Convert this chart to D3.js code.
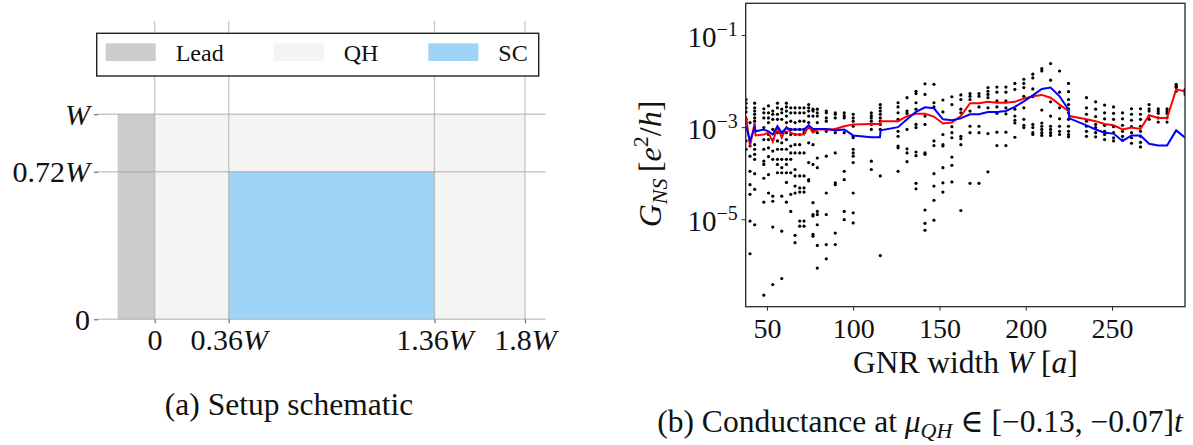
<!DOCTYPE html>
<html>
<head>
<meta charset="utf-8">
<script src="https://cdn.jsdelivr.net/npm/d3@7"></script>
<style>
  body { margin: 0; background: #fff; }
  svg { display: block; font-family: "Liberation Serif", "DejaVu Serif", serif; }
</style>
</head>
<body>
<svg id="chart" width="1193" height="445"></svg>
<script>
// ---------- (a) setup schematic, in units of W ----------
const regionNames = ['Lead', 'QH', 'SC'];
const regionStart = [-0.18, 0, 0.36];
const regionEnd = [0, 1.8, 1.36];
const regionTop = [1, 1, 0.72];

const schemXTicks = [0, 0.36, 1.36, 1.8];
const schemXLabels = ['0', '0.36W', '1.36W', '1.8W'];
const schemYTicks = [0, 0.72, 1];
const schemYLabels = ['0', '0.72W', 'W'];

// ---------- (b) conductance, values are log10(G_NS) ----------
const gnrWidths = [37.9, 40.2, 42.9, 48.2, 50.9, 53.4, 56.1, 58.6, 61.3, 63.8, 66.3, 69.0, 71.5, 74.2,
    76.7, 79.2, 84.4, 89.6, 94.8, 100.0, 110.5, 115.7, 126.0, 131.2, 136.4, 141.6, 146.8, 152.0,
    157.2, 162.4, 167.7, 172.9, 178.1, 183.3, 188.5, 193.7, 198.9, 204.1, 209.3, 214.4, 219.6,
    224.8, 235.2, 240.5, 245.7, 250.9, 256.1, 261.3, 266.5, 271.5, 276.8, 281.9, 287.2, 292.4];

const dotExponents = [
    [-2.40, -2.48, -2.58, -2.67, -2.83, -3.30, -3.48],
    [-2.90, -3.27, -3.41, -3.63, -3.96, -4.25, -4.46, -5.04, -5.75],
    [-2.48, -2.58, -2.65, -2.72, -2.80, -2.87, -3.38, -3.48, -3.59, -3.70, -4.01, -4.35, -5.12],
    [-2.60, -2.69, -2.80, -3.01, -3.27, -3.48, -3.74, -3.81, -4.11, -4.63, -6.65],
    [-2.54, -2.69, -2.80, -2.90, -3.16, -3.27, -3.45, -3.64, -4.03, -4.43],
    [-2.65, -2.72, -2.83, -3.05, -3.27, -3.52, -3.70, -4.50, -4.61, -5.17, -6.42],
    [-2.48, -2.58, -2.72, -2.83, -3.12, -3.30, -3.48, -3.70, -3.81, -3.99],
    [-2.61, -2.69, -2.83, -3.12, -3.34, -3.48, -3.70, -3.88, -3.99, -4.50, -5.26, -6.29],
    [-2.48, -2.56, -2.65, -2.76, -2.90, -3.12, -3.27, -3.48, -3.70, -3.81, -3.99, -4.20, -4.63],
    [-2.58, -2.69, -2.87, -3.05, -3.16, -3.41, -3.56, -3.70, -3.99, -4.46, -4.83],
    [-2.58, -2.69, -2.90, -3.05, -3.16, -3.38, -3.56, -3.92, -4.06, -4.28, -4.43, -5.35, -5.51],
    [-2.58, -2.69, -2.87, -3.05, -3.16, -3.38, -3.56, -4.06, -4.32, -4.41, -5.04, -5.15],
    [-2.58, -2.69, -2.87, -3.05, -3.12, -3.56, -4.06, -4.32, -4.41, -5.04, -5.15],
    [-2.51, -2.58, -2.65, -2.76, -2.90, -3.01, -3.34, -3.77, -4.14, -4.17],
    [-2.61, -2.65, -2.76, -3.09, -3.38, -3.81, -4.64, -4.90, -4.93, -5.33, -5.37],
    [-2.61, -2.69, -2.76, -2.90, -3.12, -3.67, -3.88, -4.83, -4.90, -5.12, -5.57, -6.06],
    [-2.65, -2.69, -2.80, -2.87, -3.09, -3.63, -4.43, -4.90, -5.55, -5.86],
    [-2.69, -2.72, -2.80, -3.05, -3.12, -3.56, -4.21, -4.25, -5.30, -5.55],
    [-2.69, -2.75, -2.80, -3.12, -3.96, -4.14, -4.83, -5.01],
    [-2.72, -2.80, -2.87, -2.98, -3.20, -3.23, -3.48, -3.56, -3.63, -3.77, -4.43, -4.86, -5.08],
    [-2.69, -2.75, -2.80, -2.87, -2.94, -3.05, -3.74, -3.92],
    [-2.51, -2.58, -2.65, -2.72, -2.80, -2.87, -2.94, -3.05, -4.06, -5.79],
    [-2.47, -2.56, -2.69, -2.83, -3.09, -3.20, -3.41, -3.45, -3.96],
    [-2.36, -2.65, -2.70, -3.05, -3.47, -3.56, -3.75],
    [-2.22, -2.27, -2.47, -2.61, -2.94, -3.01, -3.54, -3.62, -4.22, -4.34],
    [-2.06, -2.29, -2.76, -2.94, -3.56, -3.59, -4.80, -5.09, -5.24],
    [-2.07, -2.47, -2.56, -3.30, -3.40, -4.01, -4.28, -4.59, -5.02],
    [-2.41, -2.67, -3.16, -3.38, -3.41, -3.88, -4.21, -4.41],
    [-2.34, -2.51, -2.99, -3.12, -3.23, -3.65, -3.83, -4.19],
    [-2.30, -2.40, -2.61, -2.69, -3.20, -3.25, -3.38, -4.81],
    [-2.27, -2.33, -2.40, -2.65, -2.98, -3.12, -4.22],
    [-2.27, -2.33, -2.56, -2.98, -3.12, -4.22],
    [-2.14, -2.22, -2.29, -2.36, -2.58, -3.14, -3.97],
    [-2.13, -2.24, -2.43, -2.56, -2.70, -3.11, -3.40],
    [-2.13, -2.24, -2.43, -2.58, -2.71, -3.11, -3.40],
    [-2.05, -2.18, -2.61, -2.76, -2.85, -2.91, -3.22],
    [-1.96, -2.05, -2.14, -2.33, -2.58, -2.83, -2.96, -3.01],
    [-1.85, -1.93, -2.17, -2.34, -2.94, -3.01, -3.12, -3.16],
    [-1.73, -1.78, -2.63, -2.91, -2.98, -3.05, -3.12, -3.18],
    [-1.62, -1.98, -2.45, -2.76, -2.98, -3.05, -3.12, -3.18],
    [-1.78, -2.24, -2.58, -2.82, -2.98, -3.09, -3.16],
    [-2.05, -2.23, -2.40, -2.51, -2.60, -2.69, -2.83, -2.98, -3.09, -3.16, -3.21],
    [-2.36, -2.58, -2.72, -2.87, -2.98, -3.09, -3.20],
    [-2.45, -2.61, -2.77, -2.94, -3.01, -3.12, -3.21],
    [-2.52, -2.69, -2.82, -2.96, -3.09, -3.16, -3.27],
    [-2.56, -2.70, -2.83, -2.99, -3.12, -3.23, -3.30],
    [-2.69, -2.82, -2.96, -3.09, -3.20, -3.28],
    [-2.60, -2.72, -2.85, -2.99, -3.12, -3.23, -3.35],
    [-2.60, -2.72, -2.83, -2.98, -3.09, -3.20, -3.33, -3.43],
    [-2.51, -2.60, -2.65, -2.76, -2.83],
    [-2.60, -2.65, -2.70, -2.80, -2.89],
    [-2.60, -2.65, -2.70, -2.80, -2.89],
    [-2.07, -2.11, -2.14, -2.22],
    [-2.18, -2.24, -2.29]
];

const lineWidths = [37.9, 40.2, 42.9, 43.4, 48.2, 50.9, 53.4, 56.1, 58.6, 61.3, 63.8, 66.3, 69.0, 71.5,
    74.2, 76.7, 79.2, 84.4, 89.6, 94.8, 100.0, 110.5, 115.5, 115.9, 126.0, 131.2, 136.4, 141.6, 146.8,
    152.0, 157.2, 162.4, 167.7, 172.9, 178.1, 183.3, 188.5, 193.7, 198.9, 204.1, 209.3, 214.4, 219.6,
    224.8, 225.3, 235.2, 240.5, 245.7, 250.9, 256.1, 261.3, 266.5, 271.5, 276.8, 281.9, 287.2, 292.4];
const redExponents = [-2.76, -3.41, -2.90, -3.18, -3.16, -3.12, -3.32, -3.00, -3.23, -3.00, -3.12, -3.16,
    -3.16, -3.16, -2.98, -3.12, -3.05, -3.05, -3.04, -2.98, -2.94, -2.93, -2.93, -2.87, -2.87, -2.76,
    -2.71, -2.71, -2.77, -2.92, -2.90, -2.76, -2.48, -2.48, -2.45, -2.47, -2.47, -2.45, -2.38, -2.33,
    -2.30, -2.36, -2.51, -2.65, -2.76, -2.83, -2.87, -2.93, -2.96, -3.05, -3.01, -3.04, -2.74, -2.80,
    -2.80, -2.18, -2.22];
const blueExponents = [-2.98, -3.30, -3.01, -3.09, -3.05, -3.09, -3.16, -2.98, -3.12, -3.01, -3.05, -3.05,
    -3.05, -3.05, -2.96, -3.04, -3.04, -3.04, -3.07, -3.05, -3.18, -3.22, -3.22, -3.07, -3.00, -2.83,
    -2.67, -2.57, -2.59, -2.83, -2.85, -2.81, -2.72, -2.72, -2.67, -2.67, -2.65, -2.56, -2.44, -2.31,
    -2.17, -2.14, -2.33, -2.62, -2.81, -2.96, -3.05, -3.12, -3.14, -3.30, -3.18, -3.18, -3.36, -3.40,
    -3.40, -3.07, -3.23];

const condXTicks = [50, 100, 150, 200, 250];
const condYExponents = [-1, -3, -5];

const svg = d3.select('#chart');

// label like "0.36W": number upright, trailing W in math italic
function labelWithW(sel, label) {
    const num = label.replace('W', '');
    if (num) sel.append('tspan').text(num);
    if (label.endsWith('W')) sel.append('tspan').attr('font-style', 'italic').text('W');
}

// ================= (a) =================
const sx = d3.scaleLinear().domain([-0.28, 1.9]).range([97, 545.6]);
const sy = d3.scaleLinear().domain([0, 1.455]).range([319.3, 21]);
const regionColor = d3.scaleOrdinal().domain(regionNames).range(['#cccccc', '#f4f4f4', '#9fd4f6']);

const regions = regionNames.map((n, i) => ({ name: n, x0: regionStart[i], x1: regionEnd[i], top: regionTop[i] }));
const drawOrder = ['QH', 'Lead', 'SC'];

const a = svg.append('g');
a.selectAll('rect.region')
    .data(drawOrder.map(n => regions.find(r => r.name === n)))
    .join('rect')
    .attr('class', 'region')
    .attr('x', d => sx(d.x0))
    .attr('width', d => sx(d.x1) - sx(d.x0))
    .attr('y', d => sy(d.top))
    .attr('height', d => sy(0) - sy(d.top))
    .attr('fill', d => regionColor(d.name));

// grid on top of the regions
a.selectAll('line.vgrid').data(schemXTicks).join('line')
    .attr('class', 'vgrid')
    .attr('x1', d => sx(d)).attr('x2', d => sx(d))
    .attr('y1', sy.range()[1]).attr('y2', sy(0))
    .attr('stroke', '#a8a8a8').attr('stroke-opacity', 0.6).attr('stroke-width', 1.4);
a.selectAll('line.hgrid').data(schemYTicks).join('line')
    .attr('class', 'hgrid')
    .attr('x1', sx.range()[0]).attr('x2', sx.range()[1])
    .attr('y1', d => sy(d)).attr('y2', d => sy(d))
    .attr('stroke', '#a8a8a8').attr('stroke-opacity', 0.6).attr('stroke-width', 1.4);

const sxAxis = a.append('g')
    .attr('transform', `translate(0,${sy(0)})`)
    .call(d3.axisBottom(sx).tickValues(schemXTicks).tickSize(4).tickFormat(() => ''));
const syAxis = a.append('g')
    .attr('transform', `translate(${sx.range()[0] + 1},0)`)
    .call(d3.axisLeft(sy).tickValues(schemYTicks).tickSize(4).tickFormat(() => ''));
[sxAxis, syAxis].forEach(g => {
    g.select('.domain').remove();
    g.attr('font-family', null).attr('font-size', 30);
    g.selectAll('.tick line').attr('stroke', '#555');
});
sxAxis.selectAll('.tick text')
    .attr('fill', '#111').attr('y', 31).attr('dy', null)
    .each(function (d, i) { labelWithW(d3.select(this), schemXLabels[i]); });
syAxis.selectAll('.tick text')
    .attr('fill', '#111').attr('x', -8).attr('dy', '0.33em')
    .each(function (d, i) { labelWithW(d3.select(this), schemYLabels[i]); });

// legend
const legend = a.append('g');
const legendBox = legend.append('rect')
    .attr('x', 96.7).attr('y', 33.3).attr('height', 42.7)
    .attr('fill', '#fff').attr('stroke', '#222').attr('stroke-width', 1.4);
let cursor = 105.7;
regionNames.forEach(n => {
    legend.append('rect')
        .attr('x', cursor).attr('y', 43.3).attr('width', 50).attr('height', 17.7)
        .attr('fill', regionColor(n));
    const t = legend.append('text')
        .attr('x', cursor + 70).attr('y', 61)
        .attr('font-size', 24).attr('fill', '#111')
        .text(n);
    cursor += 70 + t.node().getComputedTextLength() + 50;
});
legendBox.attr('width', cursor - 50 + 11 - 96.7);

a.append('text')
    .attr('x', 289).attr('y', 415)
    .attr('text-anchor', 'middle').attr('font-size', 31.5).attr('fill', '#111')
    .text('(a) Setup schematic');

// ================= (b) =================
const cx = d3.scaleLinear().domain([37.7, 292.3]).range([745.7, 1185]);
const cy = d3.scaleLog().domain([Math.pow(10, -6.9), Math.pow(10, -0.31)]).range([306.7, 3.3]);

const b = svg.append('g');
b.append('clipPath').attr('id', 'frameClip')
    .append('rect')
    .attr('x', cx.range()[0]).attr('y', cy.range()[1])
    .attr('width', cx.range()[1] - cx.range()[0])
    .attr('height', cy.range()[0] - cy.range()[1]);

const plot = b.append('g').attr('clip-path', 'url(#frameClip)');

const dots = gnrWidths.flatMap((w, i) => dotExponents[i].map(e => ({ w: w, g: Math.pow(10, e) })));
plot.selectAll('circle').data(dots).join('circle')
    .attr('cx', d => cx(d.w))
    .attr('cy', d => cy(d.g))
    .attr('r', 1.6)
    .attr('fill', '#000');

const line = d3.line().x(d => cx(d.w)).y(d => cy(d.g));
const redPts = lineWidths.map((w, i) => ({ w: w, g: Math.pow(10, redExponents[i]) }));
const bluePts = lineWidths.map((w, i) => ({ w: w, g: Math.pow(10, blueExponents[i]) }));
plot.append('path').datum(redPts)
    .attr('d', line).attr('fill', 'none').attr('stroke', '#ff0000').attr('stroke-width', 2);
plot.append('path').datum(bluePts)
    .attr('d', line).attr('fill', 'none').attr('stroke', '#0000ff').attr('stroke-width', 2);

b.append('rect')
    .attr('x', cx.range()[0]).attr('y', cy.range()[1])
    .attr('width', cx.range()[1] - cx.range()[0])
    .attr('height', cy.range()[0] - cy.range()[1])
    .attr('fill', 'none').attr('stroke', '#262626').attr('stroke-width', 1.3);

const cxAxis = b.append('g')
    .attr('transform', `translate(0,${cy.range()[0]})`)
    .call(d3.axisBottom(cx).tickValues(condXTicks).tickSize(4).tickFormat(d => d));
const cyAxis = b.append('g')
    .attr('transform', `translate(${cx.range()[0]},0)`)
    .call(d3.axisLeft(cy).tickValues(condYExponents.map(e => Math.pow(10, e))).tickSize(4).tickFormat(() => ''));
[cxAxis, cyAxis].forEach(g => {
    g.select('.domain').remove();
    g.attr('font-family', null).attr('font-size', 28);
    g.selectAll('.tick line').attr('stroke', '#262626');
    g.selectAll('.tick text').attr('fill', '#111');
});
cxAxis.selectAll('.tick text').attr('y', 31).attr('dy', null);
cyAxis.selectAll('.tick text')
    .attr('x', -8).attr('dy', null)
    .each(function (d, i) {
        const t = d3.select(this);
        t.append('tspan').attr('font-size', 29).attr('dy', 11).text('10');
        t.append('tspan').attr('font-size', 20).attr('dy', -11).text('\u2212' + Math.abs(condYExponents[i]));
    });

// axis titles
const yTitle = b.append('text')
    .attr('transform', 'translate(661,164) rotate(-90)')
    .attr('text-anchor', 'middle').attr('font-size', 32).attr('fill', '#111');
yTitle.append('tspan').attr('font-style', 'italic').text('G');
yTitle.append('tspan').attr('font-style', 'italic').attr('font-size', 22).attr('dy', 6).text('NS');
yTitle.append('tspan').attr('dy', -6).text('\u2009[');
yTitle.append('tspan').attr('font-style', 'italic').text('e');
yTitle.append('tspan').attr('font-size', 22).attr('dy', -13).text('2');
yTitle.append('tspan').attr('dy', 13).text('/');
yTitle.append('tspan').attr('font-style', 'italic').text('h');
yTitle.append('tspan').text(']');

const xTitle = b.append('text')
    .attr('x', (cx.range()[0] + cx.range()[1]) / 2).attr('y', 373)
    .attr('text-anchor', 'middle').attr('font-size', 31.5).attr('fill', '#111');
xTitle.append('tspan').text('GNR width ');
xTitle.append('tspan').attr('font-style', 'italic').text('W');
xTitle.append('tspan').text(' [');
xTitle.append('tspan').attr('font-style', 'italic').text('a');
xTitle.append('tspan').text(']');

const capB = b.append('text')
    .attr('x', 920).attr('y', 432)
    .attr('text-anchor', 'middle').attr('font-size', 31.5).attr('fill', '#111');
capB.append('tspan').text('(b) Conductance at ');
capB.append('tspan').attr('font-style', 'italic').text('\u03bc');
capB.append('tspan').attr('font-style', 'italic').attr('font-size', 22).attr('dy', 6).text('QH');
capB.append('tspan').attr('dy', -6).text(' \u2208 [\u22120.13, \u22120.07]');
capB.append('tspan').attr('font-style', 'italic').text('t');
</script>
</body>
</html>
